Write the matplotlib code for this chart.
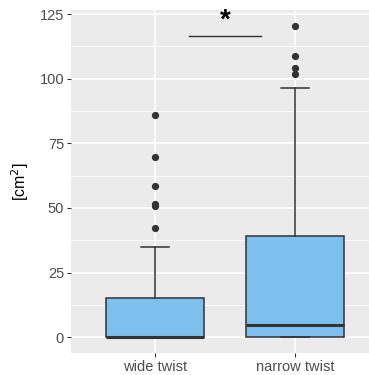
import matplotlib.pyplot as plt
from matplotlib.ticker import MultipleLocator

plt.rcParams['font.family'] = ['Liberation Sans', 'DejaVu Sans']

# data (box stats per group)
groups = ['wide twist', 'narrow twist']
q1 = [0.0, 0.0]
medians = [0.2, 4.6]
q3 = [15.0, 39.0]
whisk_lo = [0.0, 0.0]
whisk_hi = [34.9, 96.3]
outliers = [
    [42.2, 50.7, 51.5, 58.5, 69.7, 85.9],
    [102.0, 104.2, 108.7, 120.4],
]
sig_pair = (1.24, 1.76)
sig_y = 116.5
sig_label = '*'

fig = plt.figure(figsize=(3.69, 3.75), dpi=100)
# panel is cropped on the right in the reference
ax = fig.add_axes([71 / 369, 1 - 352.7 / 375, 308 / 369, 342.7 / 375])
ax.set_facecolor('#EBEBEB')

stats = []
for i, g in enumerate(groups):
    stats.append(dict(label=g, q1=q1[i], med=medians[i], q3=q3[i],
                      whislo=whisk_lo[i], whishi=whisk_hi[i], fliers=outliers[i]))

ax.bxp(stats, positions=[1, 2], widths=0.7, patch_artist=True,
       boxprops=dict(facecolor='#7DC0EE', edgecolor='#333333', linewidth=1.1),
       medianprops=dict(color='#333333', linewidth=2.2),
       whiskerprops=dict(color='#333333', linewidth=1.1),
       capprops=dict(color='#333333', linewidth=1.1),
       capwidths=0.2,
       flierprops=dict(marker='o', markerfacecolor='#333333', markeredgecolor='#333333',
                       markersize=4.2),
       zorder=3)

# significance bar
ax.plot(sig_pair, [sig_y, sig_y], color='#333333', lw=1.0, zorder=3)
ax.text(sum(sig_pair) / 2, sig_y + 0.8, sig_label, ha='center', va='bottom',
        fontsize=20, fontweight='bold', color='black')

ax.set_xlim(0.4, 2.6)
ax.set_ylim(-6.0, 126.6)
ax.yaxis.set_major_locator(MultipleLocator(25))
ax.yaxis.set_minor_locator(MultipleLocator(12.5))
ax.set_xticks([1, 2])
ax.set_xticklabels(groups)

ax.grid(which='major', color='white', lw=1.1, zorder=0)
ax.grid(which='minor', axis='y', color='white', lw=0.55, zorder=0)
ax.set_axisbelow(True)
for s in ax.spines.values():
    s.set_visible(False)
ax.tick_params(which='major', length=3, color='#333333', labelcolor='#4D4D4D',
               labelsize=10.5, pad=2)
ax.tick_params(which='minor', length=0)

ax.set_ylabel('[cm$^2$]', fontsize=11.5, labelpad=6)

fig.savefig('out.png', dpi=100)
